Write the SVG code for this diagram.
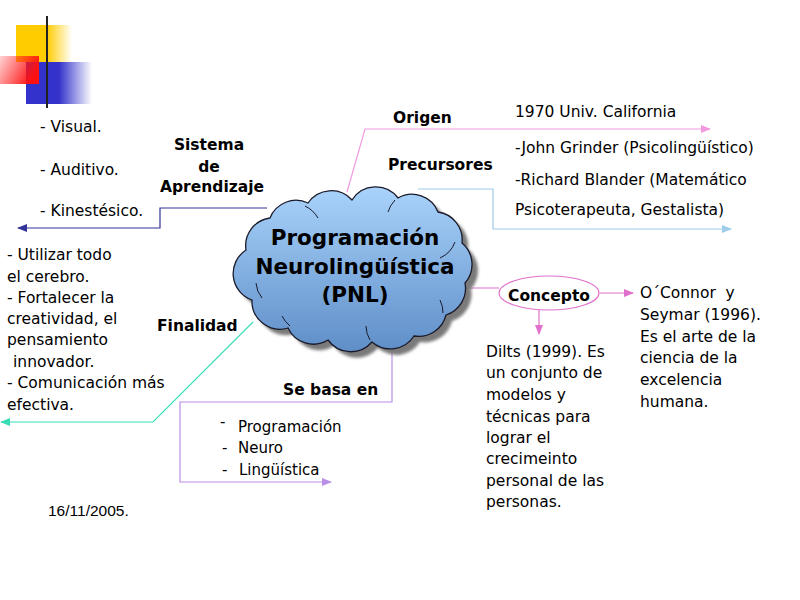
<svg xmlns="http://www.w3.org/2000/svg" width="800" height="600" viewBox="0 0 800 600">
<style>
text{font-family:"DejaVu Sans","Verdana",sans-serif;fill:#000;}
.b{font-weight:bold;font-size:15.5px;}
.t{font-size:15.5px;}
.s{font-size:15px;}
.ttl{font-weight:bold;font-size:21.5px;}
.c{fill:none;stroke-width:1.2;}
</style>
<defs>
<linearGradient id="gy" x1="0" x2="1" y1="0" y2="0"><stop offset="0.55" stop-color="#ffcc00"/><stop offset="1" stop-color="#ffcc00" stop-opacity="0"/></linearGradient>
<linearGradient id="gb" x1="0" x2="1" y1="0" y2="0"><stop offset="0.5" stop-color="#3333cc"/><stop offset="1" stop-color="#3333cc" stop-opacity="0"/></linearGradient>
<linearGradient id="gr" x1="0" x2="1" y1="0" y2="0.4"><stop offset="0" stop-color="#ff2020" stop-opacity="0.2"/><stop offset="1" stop-color="#ff1010"/></linearGradient>
<linearGradient id="gl" x1="0" x2="1" y1="0" y2="0"><stop offset="0" stop-color="#222"/><stop offset="1" stop-color="#c8c8c8"/></linearGradient>
<linearGradient id="gc" x1="0" x2="0" y1="0" y2="1"><stop offset="0" stop-color="#a9d3fb"/><stop offset="1" stop-color="#5f8ec8"/></linearGradient>
<filter id="blur" x="-10%" y="-10%" width="120%" height="120%"><feGaussianBlur stdDeviation="1.5"/></filter>
<marker id="aPink" markerUnits="userSpaceOnUse" markerWidth="10" markerHeight="8" refX="9" refY="4" orient="auto"><path d="M0,0 L10,4 L0,8 Z" fill="#f29ae0"/></marker>
<marker id="aBlue" markerUnits="userSpaceOnUse" markerWidth="10" markerHeight="8" refX="9" refY="4" orient="auto"><path d="M0,0 L10,4 L0,8 Z" fill="#9ccbec"/></marker>
<marker id="aNavy" markerUnits="userSpaceOnUse" markerWidth="10" markerHeight="8" refX="9" refY="4" orient="auto"><path d="M0,0 L10,4 L0,8 Z" fill="#333399"/></marker>
<marker id="aTeal" markerUnits="userSpaceOnUse" markerWidth="10" markerHeight="8" refX="9" refY="4" orient="auto"><path d="M0,0 L10,4 L0,8 Z" fill="#3adcb8"/></marker>
<marker id="aViolet" markerUnits="userSpaceOnUse" markerWidth="10" markerHeight="8" refX="9" refY="4" orient="auto"><path d="M0,0 L10,4 L0,8 Z" fill="#bb8ee8"/></marker>
<marker id="aMag" markerUnits="userSpaceOnUse" markerWidth="10" markerHeight="8" refX="9" refY="4" orient="auto"><path d="M0,0 L10,4 L0,8 Z" fill="#e070cc"/></marker>
<path id="cloud" d="M246,250 A28,28 0 0 1 270,218 A28,28 0 0 1 308,203 A28,28 0 0 1 352,200 A28,28 0 0 1 398,198 A28,28 0 0 1 438,212 A28,28 0 0 1 462,243 A28,28 0 0 1 465,283 A28,28 0 0 1 446,315 A28,28 0 0 1 414,336 A28,28 0 0 1 372,342 A28,28 0 0 1 328,340 A28,28 0 0 1 288,328 A28,28 0 0 1 252,300 A28,28 0 0 1 246,250 Z"/>
</defs>

<g id="decoration">
<rect x="16" y="25" width="56" height="37" fill="url(#gy)"/>
<rect x="26" y="62" width="66" height="42" fill="url(#gb)"/>
<rect x="0" y="56" width="39" height="28" fill="url(#gr)"/>
<line x1="18" y1="87" x2="800" y2="87" stroke="url(#gl)" stroke-width="2"/>
<line x1="47" y1="16" x2="47" y2="108" stroke="#222" stroke-width="2"/>
</g>

<g id="connectors">
<polyline class="c" stroke="#f29ae0" points="347,192 365,129 710,129" marker-end="url(#aPink)"/>
<polyline class="c" stroke="#9ccbec" points="418,189 493,189 493,229 731,229" marker-end="url(#aBlue)"/>
<polyline class="c" stroke="#333399" points="267,208 160,208 160,228 18,228" marker-end="url(#aNavy)"/>
<polyline class="c" stroke="#3adcb8" points="253,322 153,422 1,422" marker-end="url(#aTeal)"/>
<polyline class="c" stroke="#bb8ee8" points="392,325 392,402 180,402 180,482 331,482" marker-end="url(#aViolet)"/>
<line class="c" stroke="#e070cc" x1="460" y1="288" x2="499" y2="288"/>
<line class="c" stroke="#e070cc" x1="600" y1="293" x2="633" y2="293" marker-end="url(#aMag)"/>
<line class="c" stroke="#e070cc" x1="539" y1="310" x2="539" y2="334" marker-end="url(#aMag)"/>
</g>

<g id="node-pnl">
<use href="#cloud" transform="translate(6,6)" fill="#7a7a7a" filter="url(#blur)"/>
<use href="#cloud" fill="url(#gc)" stroke="#1a1a2a" stroke-width="1.3"/>
<g fill="none" stroke="#1a1a2a" stroke-width="1">
<path d="M262,298 A26,26 0 0 1 256,283"/>
<path d="M290,326 A30,30 0 0 1 282,316"/>
<path d="M305,206 A30,30 0 0 1 318,218"/>
<path d="M395,200 A30,30 0 0 0 388,212"/>
<path d="M455,242 A28,28 0 0 1 440,258"/>
<path d="M370,340 A28,28 0 0 1 366,326"/>
<path d="M443,313 A28,28 0 0 0 440,300"/>
</g>
<text class="ttl" x="355" y="245" text-anchor="middle">Programación</text>
<text class="ttl" x="355" y="274" text-anchor="middle">Neurolingüística</text>
<text class="ttl" x="355" y="302" text-anchor="middle">(PNL)</text>
</g>

<g id="node-origen">
<text class="b" x="393" y="123">Origen</text>
<text class="t" x="515" y="117">1970 Univ. California</text>
</g>

<g id="node-precursores">
<text class="b" x="388" y="170">Precursores</text>
<text class="t" x="515" y="153">-John Grinder (Psicolingüístico)</text>
<text class="t" x="515" y="185">-Richard Blander (Matemático</text>
<text class="t" x="515" y="215">Psicoterapeuta, Gestalista)</text>
</g>

<g id="node-sistema">
<text class="b" x="209" y="150" text-anchor="middle">Sistema</text>
<text class="b" x="209" y="172" text-anchor="middle">de</text>
<text class="b" x="212" y="192" text-anchor="middle">Aprendizaje</text>
<text class="t" x="40" y="132">- Visual.</text>
<text class="t" x="40" y="175">- Auditivo.</text>
<text class="t" x="40" y="216">- Kinestésico.</text>
</g>

<g id="node-finalidad">
<text class="b" x="157" y="331">Finalidad</text>
<text class="t" x="7" y="260">- Utilizar todo</text>
<text class="t" x="7" y="282">el cerebro.</text>
<text class="t" x="7" y="303">- Fortalecer la</text>
<text class="t" x="7" y="324">creatividad, el</text>
<text class="t" x="7" y="345">pensamiento</text>
<text class="t" x="13" y="367">innovador.</text>
<text class="t" x="7" y="388">- Comunicación más</text>
<text class="t" x="7" y="410">efectiva.</text>
</g>

<g id="node-base">
<text class="b" x="283" y="395">Se basa en</text>
<text class="s" x="220" y="427">-</text>
<text class="s" x="238" y="432">Programación</text>
<text class="s" x="222" y="453">-</text>
<text class="s" x="238" y="453">Neuro</text>
<text class="s" x="222" y="475">-</text>
<text class="s" x="239" y="475">Lingüística</text>
</g>

<g id="node-concepto">
<ellipse cx="549" cy="293" rx="50" ry="17" fill="#fff" stroke="#e070cc" stroke-width="1.2"/>
<text class="b" x="549" y="301" text-anchor="middle">Concepto</text>
</g>

<g id="node-dilts">
<text class="t" x="486" y="357">Dilts (1999). Es</text>
<text class="t" x="486" y="378">un conjunto de</text>
<text class="t" x="486" y="400">modelos y</text>
<text class="t" x="486" y="422">técnicas para</text>
<text class="t" x="486" y="443">lograr el</text>
<text class="t" x="486" y="464">crecimeinto</text>
<text class="t" x="486" y="486">personal de las</text>
<text class="t" x="486" y="507">personas.</text>
</g>

<g id="node-oconnor">
<text class="t" x="640" y="298" xml:space="preserve">O´Connor  y</text>
<text class="t" x="640" y="320">Seymar (1996).</text>
<text class="t" x="640" y="342">Es el arte de la</text>
<text class="t" x="640" y="363">ciencia de la</text>
<text class="t" x="640" y="385">excelencia</text>
<text class="t" x="640" y="407">humana.</text>
</g>

<g id="date">
<text x="48" y="516" style="font-family:'Liberation Sans',Arial,sans-serif;font-size:15.5px">16/11/2005.</text>
</g>
</svg>
